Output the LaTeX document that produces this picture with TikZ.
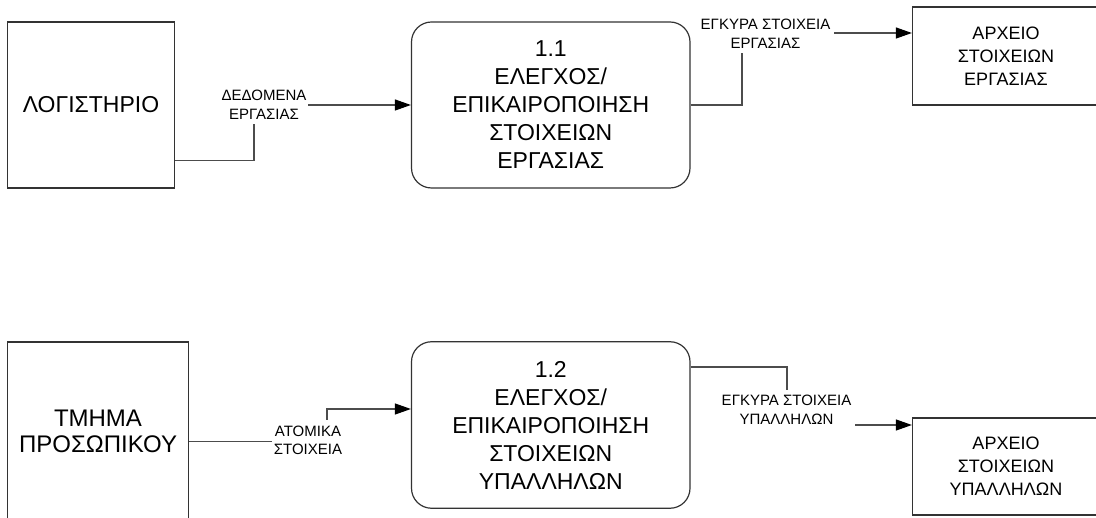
\documentclass[tikz,border=0pt]{standalone}
\usepackage{fontspec}
\setmainfont{Liberation Sans}
\usetikzlibrary{arrows.meta}
\begin{document}
\begin{tikzpicture}[x=1pt,y=-1pt,
  ent/.style={draw=black!80, line width=1.2pt, inner sep=0pt, align=center},
  proc/.style={ent, rounded corners=20pt, font=\fontsize{23}{28}\selectfont},
  store/.style={ent, font=\fontsize{18}{23}\selectfont},
  ext/.style={ent, font=\fontsize{23}{26}\selectfont},
  flow/.style={draw=black!70, line width=1.1pt, -{Triangle[length=16pt,width=11pt,color=black]}},
  lbl/.style={fill=white, inner sep=0pt, align=center, font=\fontsize{15}{18.5}\selectfont}]
\useasboundingbox (0,0) rectangle (1096,518);
% entities
\node[ext, minimum width=167pt, minimum height=166pt] (L) at (91,105) {ΛΟΓΙΣΤΗΡΙΟ};
\node[proc, minimum width=278.5pt, minimum height=166pt] (P1) at (550.75,105) {1.1\\ΕΛΕΓΧΟΣ/\\ΕΠΙΚΑΙΡΟΠΟΙΗΣΗ\\ΣΤΟΙΧΕΙΩΝ\\ΕΡΓΑΣΙΑΣ};
\node[store, minimum width=187pt, minimum height=98pt] (A1) at (1006,56) {ΑΡΧΕΙΟ\\ΣΤΟΙΧΕΙΩΝ\\ΕΡΓΑΣΙΑΣ};
\node[ext, font=\fontsize{24}{26}\selectfont, minimum width=181pt, minimum height=178pt] (T) at (98,431) {ΤΜΗΜΑ\\ΠΡΟΣΩΠΙΚΟΥ};
\node[proc, minimum width=278.5pt, minimum height=166.5pt] (P2) at (550.75,425) {1.2\\ΕΛΕΓΧΟΣ/\\ΕΠΙΚΑΙΡΟΠΟΙΗΣΗ\\ΣΤΟΙΧΕΙΩΝ\\ΥΠΑΛΛΗΛΩΝ};
\node[store, minimum width=187pt, minimum height=97pt] (A2) at (1006,466.5) {ΑΡΧΕΙΟ\\ΣΤΟΙΧΕΙΩΝ\\ΥΠΑΛΛΗΛΩΝ};
% flows
\coordinate (b1) at (254,160.7);
\draw[flow] (L.east |- b1) -- (b1) |- (P1.west);
\node[lbl, minimum width=88pt, minimum height=38pt] (l1) at (264,105) {ΔΕΔΟΜΕΝΑ\\ΕΡΓΑΣΙΑΣ};
\coordinate (b2) at (742,33);
\draw[flow] (P1.east) -| (b2) -- (A1.west |- b2);
\node[lbl, minimum width=137pt, minimum height=38pt] (l2) at (765.5,34) {ΕΓΚΥΡΑ ΣΤΟΙΧΕΙΑ\\ΕΡΓΑΣΙΑΣ};
\coordinate (b3a) at (327,441.7);
\coordinate (b3b) at (327,409);
\draw[flow] (T.east |- b3a) -- (b3a) -- (b3b) -- (P2.west |- b3b);
\node[lbl, minimum width=72pt, minimum height=41pt] (l3) at (308,440.5) {ΑΤΟΜΙΚΑ\\ΣΤΟΙΧΕΙΑ};
\coordinate (b4a) at (787,367);
\coordinate (b4b) at (787,425);
\draw[flow] (P2.east |- b4a) -- (b4a) -- (b4b) -- (A2.west |- b4b);
\node[lbl, minimum width=137pt, minimum height=40pt] (l4) at (786.5,410) {ΕΓΚΥΡΑ ΣΤΟΙΧΕΙΑ\\ΥΠΑΛΛΗΛΩΝ};
\end{tikzpicture}
\end{document}
